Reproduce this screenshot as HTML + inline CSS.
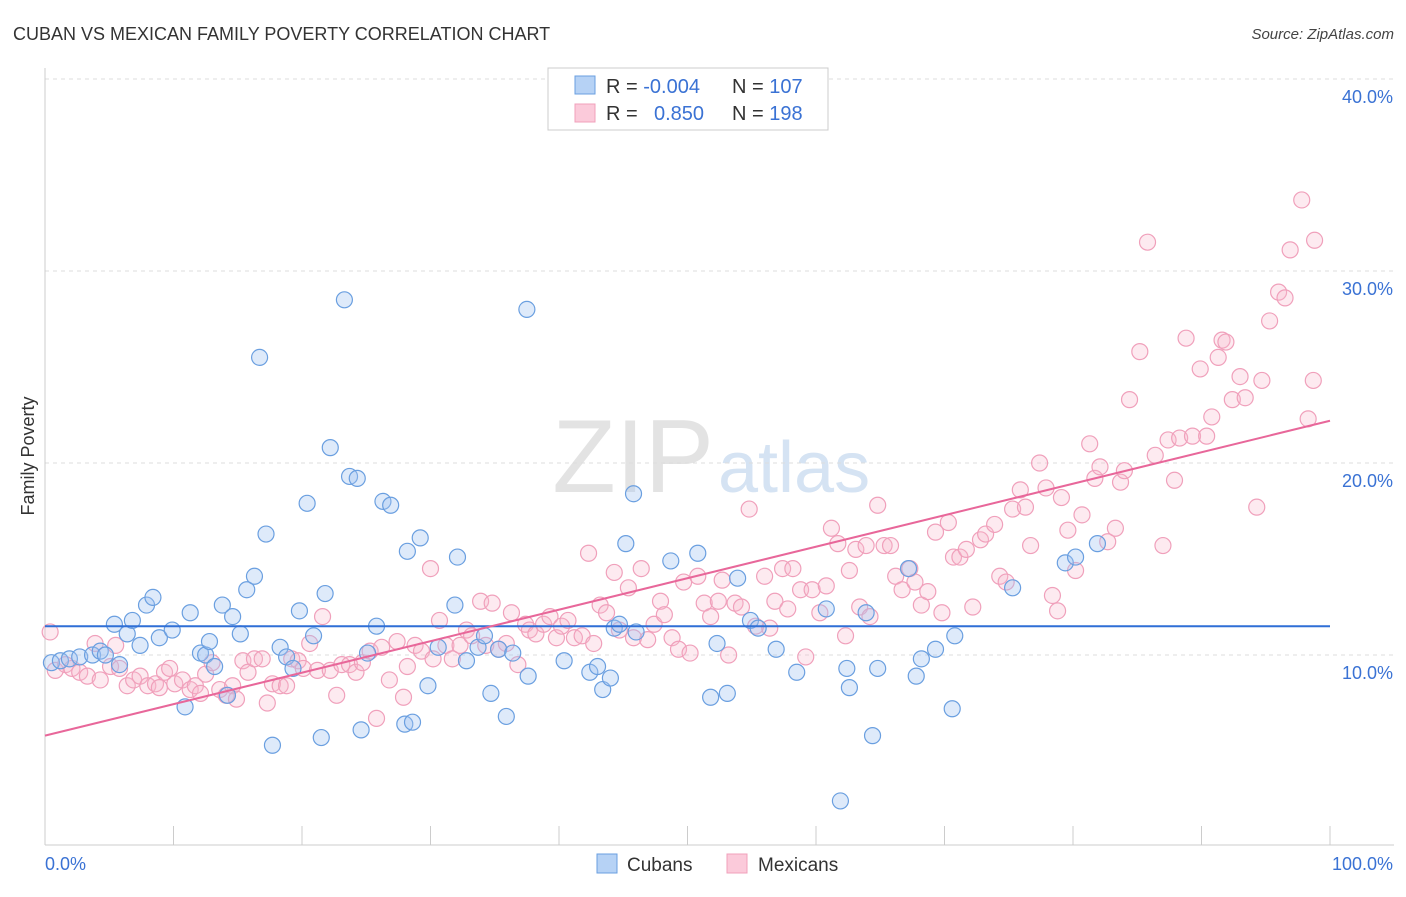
<!DOCTYPE html>
<html><head><meta charset="utf-8"><style>
body{margin:0;background:#fff;font-family:"Liberation Sans",sans-serif}
svg text{font-family:"Liberation Sans",sans-serif}
</style></head><body>
<svg id="chart" width="1406" height="892" xmlns="http://www.w3.org/2000/svg">
<text x="13" y="40" font-size="18" fill="#333">CUBAN VS MEXICAN FAMILY POVERTY CORRELATION CHART</text>
<text x="1394" y="39" font-size="15" fill="#444" text-anchor="end" font-style="italic">Source: ZipAtlas.com</text>
<text x="714" y="492" font-size="104" fill="#e3e3e3" text-anchor="end" font-family="Liberation Serif">ZIP</text>
<text x="718" y="492" font-size="72" fill="#d5e3f3">atlas</text>
<g id="grid"></g>
<g id="axes"></g>
<g id="marks"></g>
<text transform="translate(34,456) rotate(-90)" font-size="18" fill="#333" text-anchor="middle">Family Poverty</text>
<g>
<rect x="548" y="68" width="280" height="62" fill="#fff" stroke="#ccc"/>
<rect x="575" y="76" width="20" height="18" fill="#b6d2f5" stroke="#6a9fe0"/>
<rect x="575" y="104" width="20" height="18" fill="#fbcada" stroke="#f0a0bb"/>
<text x="606" y="93" font-size="20" fill="#333">R = <tspan fill="#3a72d4">-0.004</tspan></text>
<text x="732" y="93" font-size="20" fill="#333">N = <tspan fill="#3a72d4">107</tspan></text>
<text x="606" y="120" font-size="20" fill="#333">R = </text>
<text x="654" y="120" font-size="20" fill="#3a72d4">0.850</text>
<text x="732" y="120" font-size="20" fill="#333">N = <tspan fill="#3a72d4">198</tspan></text>
</g>
<g>
<rect x="597" y="854" width="20" height="19" fill="#b6d2f5" stroke="#6a9fe0"/>
<text x="627" y="871" font-size="19" fill="#333">Cubans</text>
<rect x="727" y="854" width="20" height="19" fill="#fbcada" stroke="#f0a0bb"/>
<text x="758" y="871" font-size="19" fill="#333">Mexicans</text>
</g>
</svg>
<script>
const yTicks=[10,20,30,40];
const yTickLabels=["10.0%","20.0%","30.0%","40.0%"];
const xTickLabels=["0.0%","100.0%"];
const cubanX=[0.5,1.2,1.9,2.7,3.7,4.3,4.7,5.4,5.8,6.4,6.8,7.4,7.9,8.4,8.9,9.9,10.9,11.3,12.1,12.5,12.8,13.2,13.8,14.2,14.6,15.2,15.7,16.3,16.7,17.2,17.7,18.3,18.8,19.3,19.8,20.4,20.9,21.5,21.8,22.2,23.3,23.7,24.3,24.6,25.1,25.8,26.3,26.9,28.0,28.2,28.6,29.2,29.8,30.6,31.9,32.1,32.8,33.7,34.2,34.7,35.3,35.9,36.4,37.5,37.6,40.4,42.4,43.0,43.4,44.0,44.3,44.7,45.2,45.8,46.0,48.7,50.8,51.8,52.3,53.1,53.9,54.9,55.5,56.9,58.5,60.8,61.9,62.4,62.6,63.9,64.4,64.8,67.2,67.8,68.2,69.3,70.6,70.8,75.3,79.4,80.2,81.9];
const cubanY=[9.6,9.7,9.8,9.9,10.0,10.2,10.0,11.6,9.5,11.1,11.8,10.5,12.6,13.0,10.9,11.3,7.3,12.2,10.1,10.0,10.7,9.4,12.6,7.9,12.0,11.1,13.4,14.1,25.5,16.3,5.3,10.4,9.9,9.3,12.3,17.9,11.0,5.7,13.2,20.8,28.5,19.3,19.2,6.1,10.1,11.5,18.0,17.8,6.4,15.4,6.5,16.1,8.4,10.4,12.6,15.1,9.7,10.4,11.0,8.0,10.3,6.8,10.1,28.0,8.9,9.7,9.1,9.4,8.2,8.8,11.4,11.6,15.8,18.4,11.2,14.9,15.3,7.8,10.6,8.0,14.0,11.8,11.4,10.3,9.1,12.4,2.4,9.3,8.3,12.2,5.8,9.3,14.5,8.9,9.8,10.3,7.2,11.0,13.5,14.8,15.1,15.8];
const mexX=[0.4,0.8,1.6,2.1,2.7,3.3,3.9,4.3,5.1,5.5,5.8,6.4,6.9,7.4,8.0,8.6,8.9,9.3,9.7,10.1,10.7,11.3,11.7,12.1,12.5,13.0,13.6,14.1,14.6,14.9,15.4,15.8,16.3,16.9,17.3,17.7,18.3,18.8,19.2,19.7,20.1,20.6,21.2,21.6,22.2,22.7,23.1,23.7,24.2,24.7,25.3,25.8,26.2,26.8,27.4,27.9,28.2,28.8,29.3,30.0,30.2,30.7,31.2,31.7,32.3,32.8,33.2,33.9,34.3,34.8,35.3,35.9,36.3,36.8,37.4,37.7,38.2,38.8,39.3,39.8,40.2,40.7,41.2,41.8,42.3,42.7,43.2,43.7,44.3,44.7,45.4,45.8,46.4,46.9,47.4,47.9,48.2,48.8,49.3,49.7,50.2,50.8,51.3,51.8,52.4,52.7,53.2,53.7,54.2,54.8,55.3,56.0,56.4,56.8,57.4,57.8,58.2,58.8,59.2,59.7,60.3,60.8,61.2,61.7,62.3,62.6,63.1,63.4,63.9,64.2,64.8,65.3,65.8,66.2,66.7,67.3,67.7,68.2,68.7,69.3,69.8,70.3,70.7,71.2,71.7,72.2,72.8,73.2,73.9,74.3,74.8,75.3,75.9,76.3,76.7,77.4,77.9,78.4,78.8,79.1,79.6,80.2,80.7,81.3,81.7,82.1,82.7,83.3,83.7,84.0,84.4,85.2,85.8,86.4,87.0,87.4,87.9,88.3,88.8,89.3,89.9,90.4,90.8,91.3,91.6,91.9,92.4,93.0,93.4,94.3,94.7,95.3,96.0,96.5,96.9,97.8,98.7,98.8,98.3];
const mexY=[11.2,9.2,9.5,9.3,9.1,8.9,10.6,8.7,9.4,10.5,9.3,8.4,8.7,8.9,8.4,8.5,8.3,9.1,9.3,8.5,8.7,8.2,8.4,8.0,9.0,9.6,8.2,7.9,8.4,7.7,9.7,9.1,9.8,9.8,7.5,8.5,8.4,8.4,9.8,9.7,9.3,10.6,9.2,12.0,9.2,7.9,9.5,9.5,9.1,9.6,10.2,6.7,10.4,8.7,10.7,7.8,9.4,10.5,10.2,14.5,9.8,11.8,10.5,9.8,10.5,11.3,11.0,12.8,10.5,12.7,10.3,10.6,12.2,9.5,11.6,11.3,11.1,11.6,12.0,10.9,11.5,11.8,10.9,11.0,15.3,10.6,12.6,12.2,14.3,11.3,13.5,10.9,14.5,10.8,11.6,12.8,12.1,10.9,10.3,13.8,10.1,14.1,12.7,12.0,12.8,13.9,10.0,12.7,12.5,17.6,11.5,14.1,11.4,12.8,14.5,12.4,14.5,13.4,9.9,13.4,12.2,13.6,16.6,15.8,11.0,14.4,15.5,12.5,15.7,12.0,17.8,15.7,15.7,14.1,13.4,14.5,13.8,12.6,13.3,16.4,12.2,16.9,15.1,15.1,15.5,12.5,16.0,16.3,16.8,14.1,13.8,17.6,18.6,17.7,15.7,20.0,18.7,13.1,12.3,18.2,16.5,14.4,17.3,21.0,19.2,19.8,15.9,16.6,19.0,19.6,23.3,25.8,31.5,20.4,15.7,21.2,19.1,21.3,26.5,21.4,24.9,21.4,22.4,25.5,26.4,26.3,23.3,24.5,23.4,17.7,24.3,27.4,28.9,28.6,31.1,33.7,24.3,31.6,22.3];
const trendCuban=[11.5,11.5];
const trendMex=[5.8,22.2];

const NS="http://www.w3.org/2000/svg";
const X0=45,X1=1330,Y0=847,PXY=19.2;
function sx(v){return X0+(X1-X0)*v/100;}
function sy(v){return Y0-v*PXY;}
function mk(tag,attrs,parent){const e=document.createElementNS(NS,tag);for(const k in attrs)e.setAttribute(k,attrs[k]);parent.appendChild(e);return e;}
const grid=document.getElementById('grid'),axes=document.getElementById('axes'),marks=document.getElementById('marks');
yTicks.forEach((t,i)=>{
  const l=mk('line',{x1:X0,x2:1394,y1:sy(t),y2:sy(t),stroke:'#ddd','stroke-dasharray':'4,4'},grid);
  
  
  const tx=mk('text',{x:1393,y:sy(t)+24,'font-size':18,fill:'#3a72d4','text-anchor':'end'},axes);
  tx.textContent=yTickLabels[i];
  
  
});
const al=mk('line',{x1:X0,x2:X0,y1:68,y2:845,stroke:'#ccc'},axes);


const bl=mk('line',{x1:X0,x2:1394,y1:845,y2:845,stroke:'#ccc'},axes);


for(let k=0;k<=10;k++){
  const t=mk('line',{x1:sx(k*10),x2:sx(k*10),y1:826,y2:845,stroke:'#ccc'},axes);
  
  
}
const xl0=mk('text',{x:45,y:870,'font-size':18,fill:'#3a72d4'},axes);xl0.textContent=xTickLabels[0];


const xl1=mk('text',{x:1393,y:870,'font-size':18,fill:'#3a72d4','text-anchor':'end'},axes);xl1.textContent=xTickLabels[1];


mexX.forEach((x,i)=>{
  const c=mk('circle',{cx:sx(x),cy:sy(mexY[i]),r:8,fill:'rgba(248,185,205,0.3)',stroke:'#f0a0bb','stroke-width':1.2},marks);
  
  
});
cubanX.forEach((x,i)=>{
  const c=mk('circle',{cx:sx(x),cy:sy(cubanY[i]),r:8,fill:'rgba(160,196,240,0.35)',stroke:'#6a9fe0','stroke-width':1.2},marks);
  
  
});
const tc=mk('line',{x1:sx(0),x2:sx(100),y1:sy(trendCuban[0]),y2:sy(trendCuban[1]),stroke:'#2f6fd6','stroke-width':2},marks);


const tm=mk('line',{x1:sx(0),x2:sx(100),y1:sy(trendMex[0]),y2:sy(trendMex[1]),stroke:'#e8679a','stroke-width':2},marks);


</script>
</body></html>
